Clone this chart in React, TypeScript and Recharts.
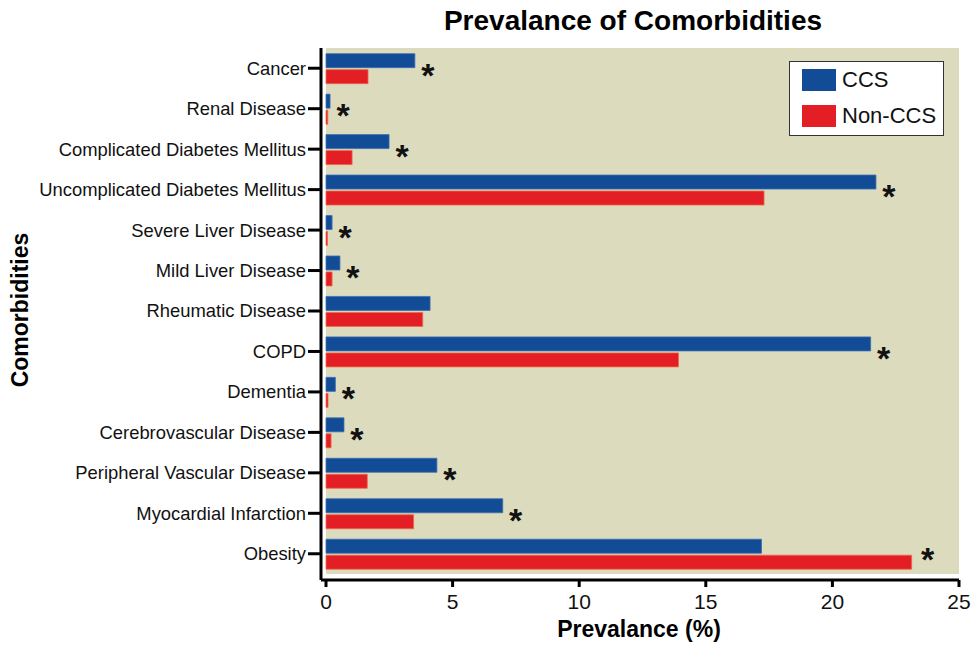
import React from "react";
import { ComposedChart, Bar, XAxis, YAxis, ReferenceArea, LabelList, Label } from "recharts";

const categories = [
  "Cancer",
  "Renal Disease",
  "Complicated Diabetes Mellitus",
  "Uncomplicated Diabetes Mellitus",
  "Severe Liver Disease",
  "Mild Liver Disease",
  "Rheumatic Disease",
  "COPD",
  "Dementia",
  "Cerebrovascular Disease",
  "Peripheral Vascular Disease",
  "Myocardial Infarction",
  "Obesity",
];
const ccsValues = [3.51, 0.16, 2.49, 21.72, 0.24, 0.55, 4.11, 21.51, 0.37, 0.71, 4.38, 6.98, 17.2];
const nonCcsValues = [1.66, 0.07, 1.03, 17.3, 0.06, 0.24, 3.82, 13.92, 0.08, 0.2, 1.63, 3.46, 23.13];
const significant = [true, true, true, true, true, true, false, true, true, true, true, true, true];
const xTicks = [0, 5, 10, 15, 20, 25];

const BLUE = "#134c96";
const RED = "#e31e24";
const TAN = "#dcdbbe";
const FONT = "'Liberation Sans', Arial, Helvetica, sans-serif";

const data = categories.map((name, i) => ({
  name,
  ccs: ccsValues[i],
  nonCcs: nonCcsValues[i],
  starCcs: significant[i] && ccsValues[i] >= nonCcsValues[i] ? "*" : "",
  starNon: significant[i] && nonCcsValues[i] > ccsValues[i] ? "*" : "",
}));

const Star = ({ cx, cy }: { cx: number; cy: number }) => (
  <text
    x={cx}
    y={cy + 18}
    textAnchor="middle"
    fontSize={34}
    fontWeight="bold"
    fontFamily={FONT}
    fill="#111"
  >
    *
  </text>
);

const StarCcs = (props: any) => {
  const { x, y, width, height, value } = props;
  if (value !== "*") return null;
  return <Star cx={Number(x) + Number(width) + 13} cy={Number(y) + Number(height) + 1} />;
};

const StarNon = (props: any) => {
  const { x, y, width, value } = props;
  if (value !== "*") return null;
  return <Star cx={Number(x) + Number(width) + 16} cy={Number(y) - 2} />;
};

const YTick = (props: any) => {
  const { x, y, payload } = props;
  return (
    <g>
      <line x1={x - 13} x2={x} y1={y} y2={y} stroke="#000" strokeWidth={3} />
      <text
        x={x - 15}
        y={y}
        dy="0.35em"
        textAnchor="end"
        fontSize={18.4}
        fontFamily={FONT}
        fill="#111"
      >
        {payload.value}
      </text>
    </g>
  );
};

const YTitle = (props: any) => {
  const vb = props.viewBox || { x: 0, y: 48, width: 321, height: 532 };
  const cx = 28;
  const cy = vb.y + vb.height / 2 - 4;
  return (
    <text
      x={cx}
      y={cy}
      transform={`rotate(-90, ${cx}, ${cy})`}
      textAnchor="middle"
      fontSize={23}
      fontWeight="bold"
      fontFamily={FONT}
      fill="#000"
    >
      Comorbidities
    </text>
  );
};

const XTitle = (props: any) => {
  const vb = props.viewBox || { x: 321, y: 580, width: 638, height: 71 };
  const cx = vb.x + vb.width / 2 - 1;
  const cy = vb.y + 57;
  return (
    <text x={cx} y={cy} textAnchor="middle" fontSize={23} fontWeight="bold" fontFamily={FONT} fill="#000">
      Prevalance (%)
    </text>
  );
};

export default function App() {
  return (
    <div
      style={{
        position: "absolute",
        left: 0,
        top: 0,
        width: 972,
        height: 651,
        background: "#fff",
        fontFamily: FONT,
      }}
    >
      <div
        style={{
          position: "absolute",
          left: 0,
          width: 1266,
          top: 4,
          textAlign: "center",
          fontSize: 28,
          fontWeight: "bold",
          color: "#000",
          lineHeight: "34px",
        }}
      >
        Prevalance of Comorbidities
      </div>
      <ComposedChart
        width={972}
        height={651}
        data={data}
        layout="vertical"
        margin={{ top: 48, right: 13, bottom: 0, left: 0 }}
        barCategoryGap="14%"
        barGap={2}
      >
        <ReferenceArea x1={0} x2={25} fill={TAN} fillOpacity={1} stroke="none" ifOverflow="visible" />
        <XAxis
          type="number"
          domain={[0, 25]}
          ticks={xTicks}
          interval={0}
          height={71}
          padding={{ left: 5, right: 0 }}
          axisLine={{ stroke: "#000", strokeWidth: 3 }}
          tickLine={{ stroke: "#000", strokeWidth: 3 }}
          tickSize={7}
          tickMargin={7}
          tick={{ fontSize: 21, fill: "#111", fontFamily: FONT }}
        >
          <Label content={<XTitle />} />
        </XAxis>
        <YAxis
          type="category"
          dataKey="name"
          width={321}
          padding={{ top: 0, bottom: 6 }}
          axisLine={{ stroke: "#000", strokeWidth: 3 }}
          tickLine={false}
          tickSize={0}
          tickMargin={0}
          interval={0}
          tick={<YTick />}
        >
          <Label content={<YTitle />} />
        </YAxis>
        <Bar dataKey="ccs" name="CCS" fill={BLUE} stroke="#3a6fb3" strokeWidth={0.8} isAnimationActive={false}>
          <LabelList dataKey="starCcs" content={<StarCcs />} />
        </Bar>
        <Bar dataKey="nonCcs" name="Non-CCS" fill={RED} stroke="#ee6a45" strokeWidth={0.8} isAnimationActive={false}>
          <LabelList dataKey="starNon" content={<StarNon />} />
        </Bar>
      </ComposedChart>
      <div
        style={{
          position: "absolute",
          left: 789,
          top: 61,
          width: 153,
          height: 73,
          background: "#fff",
          border: "1.5px solid #333",
        }}
      >
        <div style={{ position: "absolute", left: 12, top: 7, width: 34, height: 22, background: BLUE }} />
        <div
          style={{ position: "absolute", left: 52, top: 7, height: 22, lineHeight: "22px", fontSize: 22, color: "#111" }}
        >
          CCS
        </div>
        <div style={{ position: "absolute", left: 12, top: 43, width: 34, height: 22, background: RED }} />
        <div
          style={{ position: "absolute", left: 52, top: 43, height: 22, lineHeight: "22px", fontSize: 22, color: "#111" }}
        >
          Non-CCS
        </div>
      </div>
    </div>
  );
}
